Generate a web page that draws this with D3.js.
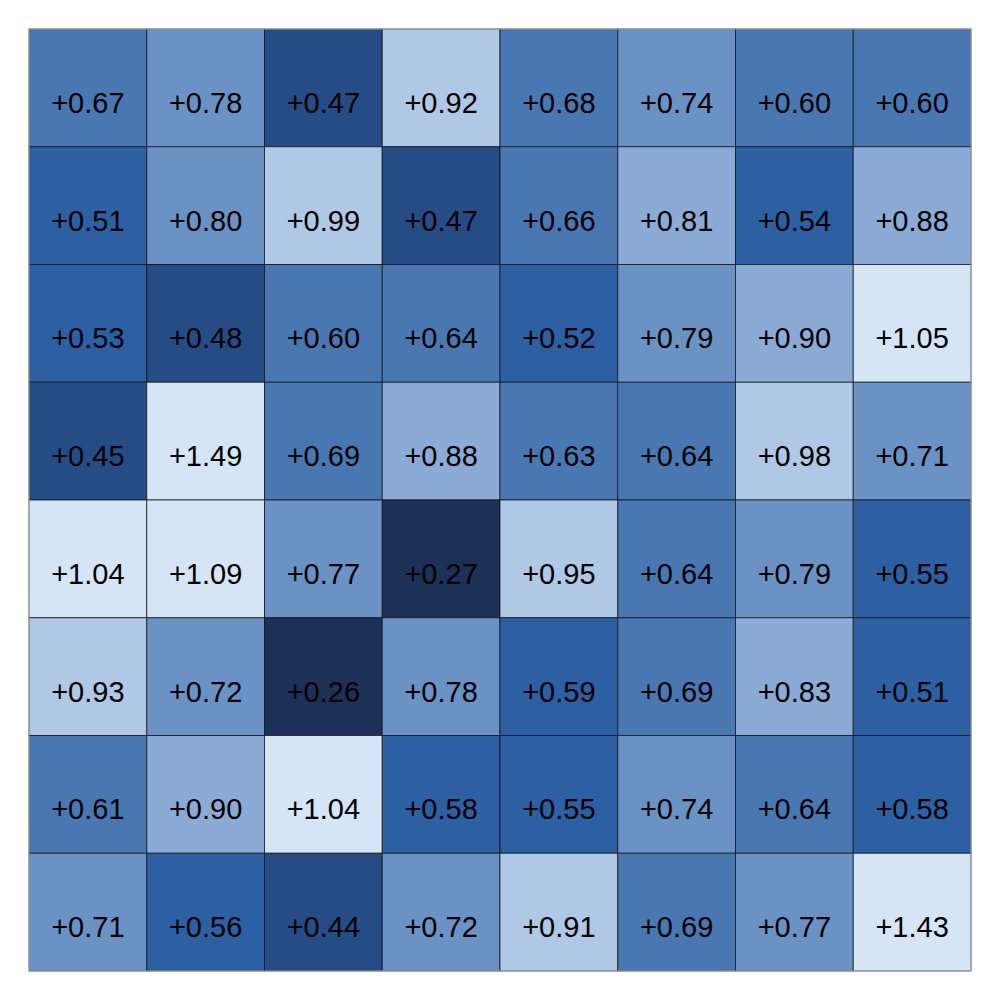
<!DOCTYPE html>
<html><head><meta charset="utf-8">
<script src="https://cdn.jsdelivr.net/npm/d3@7"></script>
<style>body{margin:0;background:#fff}</style>
</head><body>
<svg id="chart" width="1000" height="1000"></svg>
<script>
const rows = ["r1","r2","r3","r4","r5","r6","r7","r8"];
const cols = ["c1","c2","c3","c4","c5","c6","c7","c8"];
const values = [
  [0.67,0.78,0.47,0.92,0.68,0.74,0.60,0.60],
  [0.51,0.80,0.99,0.47,0.66,0.81,0.54,0.88],
  [0.53,0.48,0.60,0.64,0.52,0.79,0.90,1.05],
  [0.45,1.49,0.69,0.88,0.63,0.64,0.98,0.71],
  [1.04,1.09,0.77,0.27,0.95,0.64,0.79,0.55],
  [0.93,0.72,0.26,0.78,0.59,0.69,0.83,0.51],
  [0.61,0.90,1.04,0.58,0.55,0.74,0.64,0.58],
  [0.71,0.56,0.44,0.72,0.91,0.69,0.77,1.43]
];
const thresholds = [0.3,0.5,0.6,0.7,0.805,0.905,1.0];
const palette = ["#1b3157","#264c86","#2d5fa3","#4977b2","#6a92c4","#8aabd5","#afc8e6","#d5e5f6"];

const svg = d3.select("#chart");
const x = d3.scaleBand().domain(cols).range([29,971]);
const y = d3.scaleBand().domain(rows).range([29,971]);
const color = d3.scaleThreshold().domain(thresholds).range(palette);

const cells = [];
values.forEach((r,i)=>r.forEach((v,j)=>cells.push({row:rows[i],col:cols[j],v})));

svg.append("g").selectAll("rect").data(cells).join("rect")
  .attr("x",d=>x(d.col)).attr("y",d=>y(d.row))
  .attr("width",x.bandwidth()).attr("height",y.bandwidth())
  .attr("fill",d=>color(d.v))
  .attr("stroke","#111").attr("stroke-opacity",0.75).attr("stroke-width",1);

// outer frame: lighter edge as in the reference
const [x0,x1] = x.range(), [y0,y1] = y.range();
svg.append("rect")
  .attr("x",x0).attr("y",y0).attr("width",x1-x0).attr("height",y1-y0)
  .attr("fill","none").attr("stroke","#a9b3c3").attr("stroke-width",1);

svg.append("g").selectAll("text").data(cells).join("text")
  .attr("x",d=>x(d.col)+x.bandwidth()/2)
  .attr("y",d=>y(d.row)+y.bandwidth()/2+25)
  .attr("text-anchor","middle")
  .attr("font-family","Liberation Sans, Arial, sans-serif")
  .attr("font-size",29)
  .attr("fill","#000")
  .text(d=>"+"+d.v.toFixed(2));
</script>
</body></html>
